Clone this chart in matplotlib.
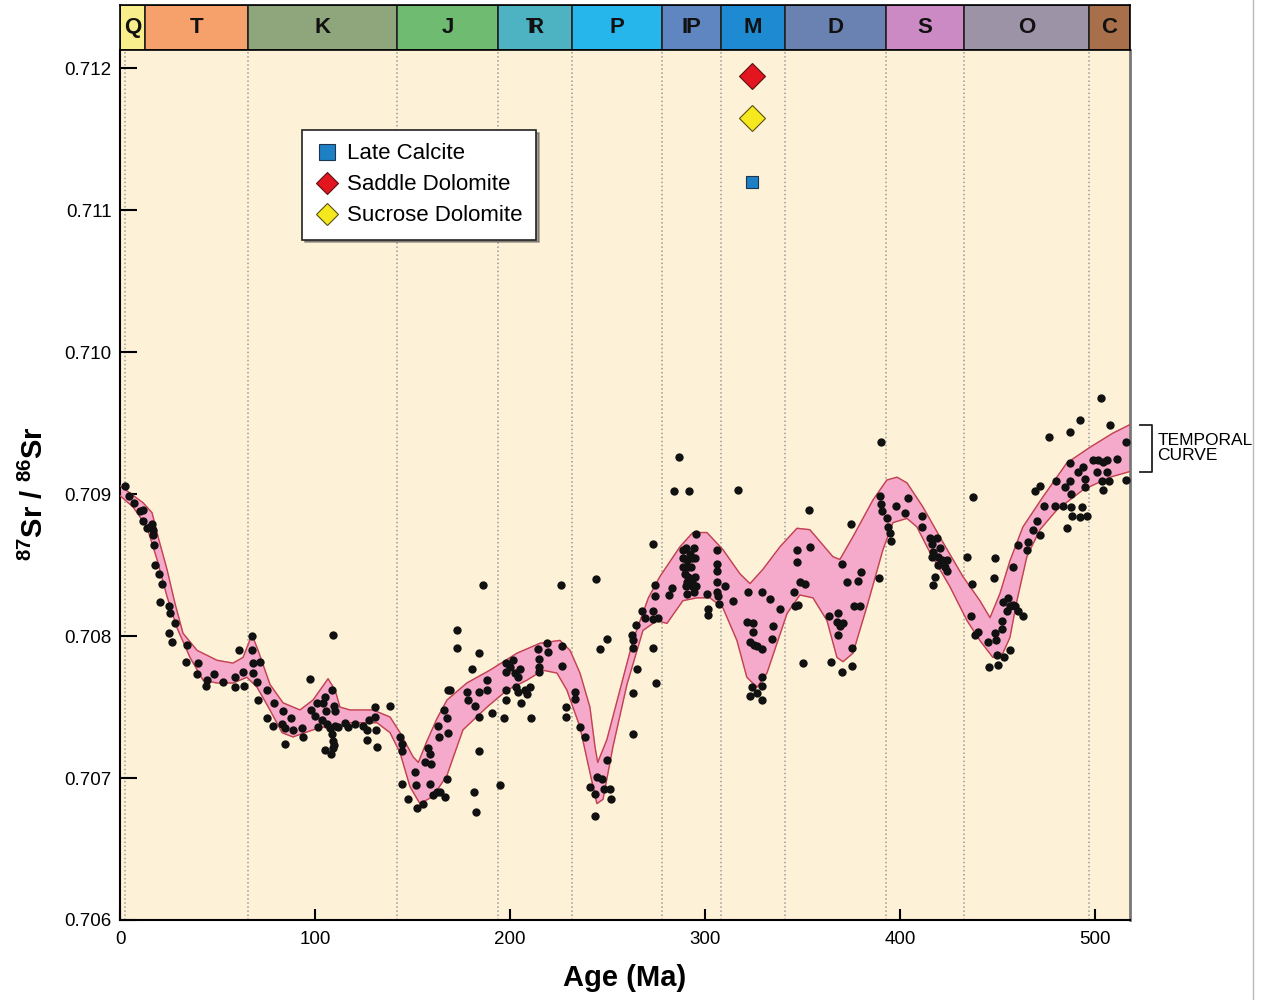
import numpy as np
import matplotlib.pyplot as plt
from matplotlib.lines import Line2D

plt.rcParams['font.family'] = ['Liberation Sans', 'DejaVu Sans']
plt.rcParams['mathtext.fontset'] = 'custom'
plt.rcParams['mathtext.rm'] = 'Liberation Sans'
plt.rcParams['mathtext.bf'] = 'Liberation Sans:bold'

# geologic periods (Ma)
periods = ['Q', 'T', 'K', 'J', 'TR', 'P', 'IP', 'M', 'D', 'S', 'O', 'C']
period_edges = [0, 12.8, 65.6, 142, 194, 232, 278, 308, 341, 393, 433, 497, 518]
period_colors = ['#F8EE8C', '#F6A06C', '#8FA67C', '#6FBB72', '#4DB2C2', '#27B6EC',
                 '#5F86C0', '#1E8AD2', '#6A82B2', '#CC8AC4', '#9C93A6', '#A8704A']
grid_ages = [2.6, 65.6, 142, 194, 232, 278, 308, 341, 393, 433, 497]

# temporal curve envelope
upper_age = [0, 11.8, 16.4, 19.5, 24.1, 28.2, 32.3, 39.5, 49.7, 57.9, 63.1, 67.7, 70.8,
             76.9, 83.6, 92.3, 99.0, 106.7, 110.3, 112.8, 117.9, 129.7, 138.5, 143.6,
             150.3, 153.0, 157.4, 162.6, 167.7, 177.9, 189.7, 203.6, 215.4, 225.6, 230.8,
             235.9, 241.0, 243.6, 245.0, 249.7, 256.4, 263.1, 271.0, 276.9, 287.2, 293.8,
             301.0, 309.2, 317.9, 323.1, 329.7, 338.5, 347.2, 353.8, 365.6, 369.2, 375.9,
             386.2, 393.3, 398.5, 403.6, 411.8, 422.1, 432.3, 441.0, 446.2, 451.3, 456.4,
             463.1, 473.3, 485.6, 497.4, 509.2, 517.9]
upper_sr = [0.70906, 0.70894, 0.70887, 0.70870, 0.70847, 0.70823, 0.70802, 0.70790,
            0.70783, 0.70781, 0.70785, 0.70801, 0.70790, 0.70766, 0.70753, 0.70748,
            0.70755, 0.70770, 0.70762, 0.70750, 0.70748, 0.70748, 0.70743, 0.70732,
            0.70715, 0.70711, 0.70726, 0.70742, 0.70755, 0.70767, 0.70776, 0.70788,
            0.70795, 0.70797, 0.70790, 0.70774, 0.70750, 0.70722, 0.70711, 0.70727,
            0.70762, 0.70797, 0.70827, 0.70842, 0.70863, 0.70873, 0.70873, 0.70861,
            0.70844, 0.70837, 0.70847, 0.70863, 0.70876, 0.70875, 0.70856, 0.70854,
            0.70870, 0.70896, 0.70910, 0.70912, 0.70908, 0.70891, 0.70866, 0.70842,
            0.70825, 0.70813, 0.70830, 0.70853, 0.70877, 0.70898, 0.70922, 0.70933,
            0.70943, 0.70949]
lower_age = [0, 6.7, 13.8, 19.0, 24.1, 29.2, 35.9, 42.6, 49.7, 57.9, 65.1, 70.3, 76.9,
             83.1, 88.7, 99.0, 104.1, 109.2, 117.9, 131.8, 138.5, 143.6, 148.7, 153.8,
             160.5, 167.7, 172.8, 175.9, 188.2, 198.5, 208.7, 216.9, 224.1, 229.2, 235.9,
             241.0, 244.6, 247.7, 252.8, 260.0, 268.2, 275.4, 280.5, 288.7, 295.9, 302.6,
             309.2, 316.4, 321.5, 326.7, 331.8, 342.1, 348.7, 355.4, 362.6, 367.7, 370.8,
             375.9, 383.1, 391.3, 396.4, 403.6, 408.7, 415.4, 425.6, 434.4, 441.0, 447.7,
             452.8, 456.4, 460.0, 465.1, 471.8, 480.5, 493.8, 507.7, 517.9]
lower_sr = [0.70899, 0.70891, 0.70877, 0.70854, 0.70828, 0.70806, 0.70785, 0.70769,
            0.70767, 0.70767, 0.70771, 0.70764, 0.70748, 0.70732, 0.70729, 0.70734,
            0.70736, 0.70734, 0.70739, 0.70739, 0.70732, 0.70718, 0.70694, 0.70682,
            0.70687, 0.70702, 0.70722, 0.70734, 0.70750, 0.70762, 0.70769, 0.70776,
            0.70774, 0.70762, 0.70736, 0.70704, 0.70682, 0.70685, 0.70722, 0.70766,
            0.70804, 0.70811, 0.70809, 0.70825, 0.70827, 0.70827, 0.70820, 0.70797,
            0.70771, 0.70764, 0.70774, 0.70816, 0.70829, 0.70827, 0.70811, 0.70785,
            0.70782, 0.70788, 0.70821, 0.70861, 0.70880, 0.70883, 0.70877, 0.70859,
            0.70835, 0.70811, 0.70797, 0.70785, 0.70788, 0.70799, 0.70825, 0.70856,
            0.70875, 0.70889, 0.70903, 0.70912, 0.70916]

# seawater samples (age Ma, 87Sr/86Sr)
samples_a = [(2.6, 0.70906), (4.8, 0.70899), (7.4, 0.70894), (10.3, 0.70888), (12.0, 0.70889),
             (11.6, 0.70881), (13.7, 0.70876), (15.4, 0.70877), (16.2, 0.70879), (17.1, 0.70875),
             (16.8, 0.70871), (17.6, 0.70864), (18.0, 0.70850), (20.2, 0.70844), (21.4, 0.70837),
             (20.5, 0.70824), (25.3, 0.70821), (25.6, 0.70816), (28.2, 0.70809), (25.1, 0.70802),
             (26.5, 0.70796), (34.5, 0.70794), (33.9, 0.70782), (40.2, 0.70781), (39.3, 0.70773),
             (44.1, 0.70765), (44.8, 0.70769), (48.2, 0.70773), (53.0, 0.70768), (59.0, 0.70771),
             (59.0, 0.70764), (61.2, 0.70790), (62.9, 0.70775), (63.6, 0.70765), (67.5, 0.70800),
             (67.5, 0.70790), (68.0, 0.70781), (71.8, 0.70782), (68.4, 0.70774), (70.1, 0.70768),
             (70.9, 0.70755), (75.2, 0.70762), (79.0, 0.70753), (75.2, 0.70742), (78.3, 0.70737),
             (83.4, 0.70747), (83.3, 0.70738), (87.7, 0.70742), (84.8, 0.70724), (84.6, 0.70735),
             (88.6, 0.70734), (93.3, 0.70735), (93.7, 0.70729), (97.4, 0.70770), (98.0, 0.70748),
             (100.0, 0.70744), (100.9, 0.70753), (101.7, 0.70736), (103.4, 0.70741), (104.3, 0.70753),
             (105.1, 0.70757), (105.5, 0.70747), (106.0, 0.70738), (107.7, 0.70735), (108.6, 0.70731),
             (108.9, 0.70762), (109.9, 0.70751), (110.3, 0.70747), (105.1, 0.70720), (108.0, 0.70717),
             (109.1, 0.70721), (109.7, 0.70723), (109.4, 0.70726), (110.4, 0.70737), (112.0, 0.70736),
             (115.4, 0.70739), (117.1, 0.70736), (120.5, 0.70738), (124.8, 0.70737), (126.5, 0.70734),
             (126.5, 0.70727), (127.9, 0.70741), (130.9, 0.70750), (130.9, 0.70743), (131.3, 0.70734),
             (131.6, 0.70722), (138.5, 0.70751), (143.6, 0.70729), (144.6, 0.70724), (144.4, 0.70719),
             (144.4, 0.70696), (147.9, 0.70685), (151.3, 0.70704), (152.1, 0.70679), (151.8, 0.70695),
             (155.6, 0.70682), (156.4, 0.70711), (158.1, 0.70721), (159.0, 0.70717), (159.0, 0.70696),
             (159.5, 0.70710), (160.7, 0.70688), (162.9, 0.70737), (163.8, 0.70729), (166.2, 0.70748),
             (167.5, 0.70742), (168.4, 0.70732), (167.5, 0.70699), (166.7, 0.70687), (168.4, 0.70762),
             (109.4, 0.70801), (162.4, 0.70690), (164.1, 0.70690)]
samples_b = [(169.2, 0.70762), (173.0, 0.70804), (173.0, 0.70792), (177.8, 0.70761), (178.3, 0.70755),
             (180.3, 0.70777), (182.1, 0.70751), (184.1, 0.70788), (184.1, 0.70761), (184.1, 0.70743),
             (184.1, 0.70719), (181.5, 0.70690), (182.6, 0.70676), (186.3, 0.70836), (188.0, 0.70769),
             (188.0, 0.70762), (190.6, 0.70746), (194.9, 0.70695), (196.9, 0.70742), (198.0, 0.70781),
             (198.0, 0.70775), (198.0, 0.70762), (198.0, 0.70755), (200.0, 0.70778), (201.7, 0.70783),
             (202.6, 0.70774), (203.1, 0.70764), (204.3, 0.70771), (204.3, 0.70761), (205.1, 0.70777),
             (205.5, 0.70753), (207.7, 0.70762), (208.6, 0.70759), (210.3, 0.70764), (210.6, 0.70742),
             (214.5, 0.70791), (215.0, 0.70778), (215.0, 0.70784), (215.0, 0.70775), (218.8, 0.70795),
             (219.7, 0.70789), (226.2, 0.70836), (226.8, 0.70793), (226.8, 0.70779), (228.6, 0.70750),
             (228.6, 0.70743), (233.3, 0.70761), (233.3, 0.70756), (235.9, 0.70736), (238.5, 0.70729),
             (241.0, 0.70694), (244.1, 0.70840), (244.4, 0.70701), (243.6, 0.70689), (243.6, 0.70673),
             (246.2, 0.70791), (247.0, 0.70699), (248.2, 0.70692), (249.6, 0.70713), (249.9, 0.70798),
             (251.3, 0.70692), (251.6, 0.70685), (263.3, 0.70731), (263.3, 0.70760), (262.9, 0.70792),
             (262.9, 0.70797), (262.4, 0.70801), (264.6, 0.70808), (265.3, 0.70777), (267.5, 0.70818),
             (269.2, 0.70813), (273.2, 0.70818), (273.2, 0.70792), (274.4, 0.70828), (274.4, 0.70836),
             (274.7, 0.70767), (273.5, 0.70812), (276.1, 0.70813), (281.7, 0.70829), (282.9, 0.70834),
             (273.2, 0.70865)]
samples_c = [(286.7, 0.70926), (284.1, 0.70902), (292.0, 0.70902), (288.9, 0.70861), (290.3, 0.70862),
             (292.3, 0.70858), (294.5, 0.70862), (288.9, 0.70855), (290.6, 0.70854), (293.2, 0.70855),
             (294.9, 0.70855), (288.9, 0.70849), (291.5, 0.70849), (293.0, 0.70849), (289.7, 0.70844),
             (291.5, 0.70842), (294.9, 0.70842), (290.6, 0.70838), (293.2, 0.70838), (290.3, 0.70835),
             (293.2, 0.70835), (295.4, 0.70835), (290.9, 0.70830), (294.4, 0.70831), (295.2, 0.70872),
             (300.9, 0.70830), (301.7, 0.70819), (301.7, 0.70815), (306.3, 0.70861), (306.0, 0.70851),
             (306.3, 0.70846), (306.3, 0.70838), (306.3, 0.70831), (306.8, 0.70828), (307.4, 0.70823),
             (310.3, 0.70835), (314.2, 0.70825), (316.8, 0.70903), (322.2, 0.70831), (321.4, 0.70810),
             (324.4, 0.70809), (324.8, 0.70803), (323.1, 0.70796), (325.1, 0.70794), (326.5, 0.70793),
             (329.1, 0.70791), (329.1, 0.70831), (333.3, 0.70826), (335.0, 0.70807), (334.2, 0.70798),
             (338.5, 0.70819), (329.1, 0.70771), (329.1, 0.70765), (323.9, 0.70764), (323.1, 0.70758),
             (326.5, 0.70760), (329.1, 0.70755), (345.6, 0.70831), (346.2, 0.70821), (347.9, 0.70822),
             (347.0, 0.70852), (347.4, 0.70861), (348.7, 0.70838), (351.3, 0.70837), (353.9, 0.70863),
             (353.5, 0.70889), (350.4, 0.70781), (364.4, 0.70782), (363.8, 0.70814), (368.4, 0.70816),
             (367.9, 0.70810), (369.2, 0.70807), (370.9, 0.70809), (368.4, 0.70801), (370.1, 0.70775),
             (375.2, 0.70779), (375.2, 0.70792), (370.1, 0.70851), (372.7, 0.70838), (374.7, 0.70879),
             (376.4, 0.70821), (379.5, 0.70821), (378.6, 0.70839), (379.8, 0.70845), (389.4, 0.70841),
             (389.7, 0.70899), (390.1, 0.70893), (390.6, 0.70888), (393.5, 0.70883), (394.0, 0.70877),
             (394.9, 0.70873), (395.2, 0.70867), (398.0, 0.70892), (390.3, 0.70937)]
samples_d = [(404.3, 0.70897), (402.6, 0.70887), (411.1, 0.70885), (411.1, 0.70877), (415.4, 0.70869),
             (416.2, 0.70865), (419.2, 0.70869), (420.5, 0.70862), (417.1, 0.70859), (416.2, 0.70856),
             (419.7, 0.70856), (421.4, 0.70854), (423.9, 0.70854), (419.7, 0.70850), (423.1, 0.70849),
             (423.9, 0.70846), (418.0, 0.70842), (416.8, 0.70836), (437.6, 0.70898), (434.5, 0.70856),
             (436.8, 0.70837), (436.2, 0.70814), (438.5, 0.70801), (440.2, 0.70803), (445.3, 0.70796),
             (445.8, 0.70778), (448.7, 0.70802), (449.2, 0.70797), (449.6, 0.70787), (450.4, 0.70780),
             (453.3, 0.70785), (456.4, 0.70790), (452.1, 0.70805), (452.1, 0.70811), (453.0, 0.70824),
             (455.6, 0.70827), (456.4, 0.70821), (457.8, 0.70822), (454.7, 0.70818), (459.0, 0.70821),
             (460.7, 0.70818), (463.3, 0.70814), (448.7, 0.70855), (448.2, 0.70841), (457.8, 0.70849),
             (460.7, 0.70864), (465.0, 0.70861), (465.8, 0.70866), (468.4, 0.70875), (470.1, 0.70881),
             (471.8, 0.70871), (469.2, 0.70902), (471.8, 0.70906), (473.9, 0.70892), (476.6, 0.70940),
             (480.0, 0.70909), (479.5, 0.70892), (483.8, 0.70892), (484.6, 0.70905), (485.8, 0.70876),
             (487.2, 0.70922), (487.2, 0.70944), (487.2, 0.70909), (487.5, 0.70900), (487.7, 0.70891),
             (488.0, 0.70885), (491.5, 0.70916), (492.3, 0.70884), (493.2, 0.70891), (494.0, 0.70919),
             (494.9, 0.70911), (494.9, 0.70905), (495.7, 0.70885), (499.2, 0.70924), (500.9, 0.70916),
             (501.7, 0.70924), (504.3, 0.70923), (506.0, 0.70916), (503.4, 0.70909), (504.3, 0.70903),
             (506.3, 0.70924), (507.4, 0.70909), (511.1, 0.70925), (515.9, 0.70937), (516.2, 0.70910),
             (507.7, 0.70949), (492.3, 0.70952), (503.1, 0.70968)]

# Mississippian host samples
cement_names = ['Late Calcite', 'Saddle Dolomite', 'Sucrose Dolomite']
cement_age = [324, 324, 324]
cement_sr = [0.71120, 0.71195, 0.71165]

fig = plt.figure(figsize=(12.62, 10), dpi=100)
ax = fig.add_axes([0.0951, 0.08, 0.8003, 0.87])
ax.set_facecolor('#FDF2D8')
ax.set_xlim(0, 518)
ax.set_ylim(0.706, 0.71213)

for g in grid_ages:
    ax.axvline(g, color='#9A9A9A', ls=':', lw=1.1, zorder=1)

# envelope
poly_x = np.concatenate([upper_age, lower_age[::-1]])
poly_y = np.concatenate([upper_sr, lower_sr[::-1]])
ax.fill(poly_x, poly_y, color='#F5AACB', zorder=2)
ax.plot(upper_age, upper_sr, color='#C2424E', lw=1, zorder=3)
ax.plot(lower_age, lower_sr, color='#C2424E', lw=1, zorder=3)

pts = np.array(samples_a + samples_b + samples_c + samples_d)
ax.scatter(pts[:, 0], pts[:, 1], s=36, color='#111111', zorder=4, lw=0)

ax.plot(cement_age[0], cement_sr[0], 's', ms=9, mfc='#1E80C4', mec='#1B3550', mew=0.8,
        zorder=5, label=cement_names[0])
ax.plot(cement_age[1], cement_sr[1], 'D', ms=13, mfc='#E3151F', mec='#5A1010', mew=0.8,
        zorder=5, label=cement_names[1])
ax.plot(cement_age[2], cement_sr[2], 'D', ms=13, mfc='#F6E81E', mec='#5A5010', mew=0.8,
        zorder=5, label=cement_names[2])

leg = ax.legend(loc='upper left', bbox_to_anchor=(0.18, 0.908), fontsize=16, frameon=True,
                fancybox=False, shadow=True, framealpha=1, edgecolor='#222222',
                handletextpad=0.35, borderpad=0.6, labelspacing=0.45, handlelength=1.1,
                borderaxespad=0)
leg.get_frame().set_linewidth(1.2)
for h in leg.legend_handles:
    h.set_markersize(11)

ax.set_xticks([0, 100, 200, 300, 400, 500])
ax.set_yticks([0.706, 0.707, 0.708, 0.709, 0.710, 0.711, 0.712])
ax.set_yticklabels(['0.706', '0.707', '0.708', '0.709', '0.710', '0.711', '0.712'])
ax.tick_params(axis='both', direction='in', labelsize=13.5, length=12, width=1.5)
ax.tick_params(axis='x', length=8, pad=8)
ax.tick_params(axis='y', pad=6)
for side in ['left', 'bottom']:
    ax.spines[side].set_linewidth(1.5)
ax.spines['right'].set_color('#777777')
ax.spines['right'].set_linewidth(2)
ax.spines['top'].set_visible(False)

ax.set_xlabel('Age (Ma)', fontsize=21, fontweight='bold')
ax.xaxis.set_label_coords(0.5, -0.05)
ax.set_ylabel(r'$^{\mathbf{87}}$Sr / $^{\mathbf{86}}$Sr', fontsize=21, fontweight='bold')
ax.yaxis.set_label_coords(-0.07, 0.49)

# temporal curve bracket
bx = [523, 529.5, 529.5, 523]
by = [upper_sr[-1], upper_sr[-1], lower_sr[-1], lower_sr[-1]]
ax.plot(bx, by, color='#222222', lw=1.3, clip_on=False)
ax.text(532, (upper_sr[-1] + lower_sr[-1]) / 2, 'TEMPORAL\nCURVE', fontsize=12.5,
        va='center', ha='left', linespacing=0.95, clip_on=False)

# period bar
axp = fig.add_axes([0.0951, 0.95, 0.8003, 0.045])
axp.set_xlim(0, 518)
axp.set_ylim(0, 1)
labels_tex = {'TR': r'$\mathbf{T}\!\!\!\mathbf{R}$',
              'IP': r'$\mathbf{I}\hspace{-0.06}\mathbf{P}$'}
for i, name in enumerate(periods):
    x0, x1 = period_edges[i], period_edges[i + 1]
    axp.axvspan(x0, x1, color=period_colors[i], ec='#222222', lw=1.2)
    axp.text((x0 + x1) / 2, 0.5, labels_tex.get(name, name), fontsize=16, fontweight='bold',
             ha='center', va='center', color='#111111')
axp.set_xticks([])
axp.set_yticks([])
for s in axp.spines.values():
    s.set_linewidth(1.2)

fig.add_artist(Line2D([0.993, 0.993], [0.0, 1.0], color='#BBBBBB', lw=1))

fig.savefig('out.png', dpi=100, facecolor='white')
